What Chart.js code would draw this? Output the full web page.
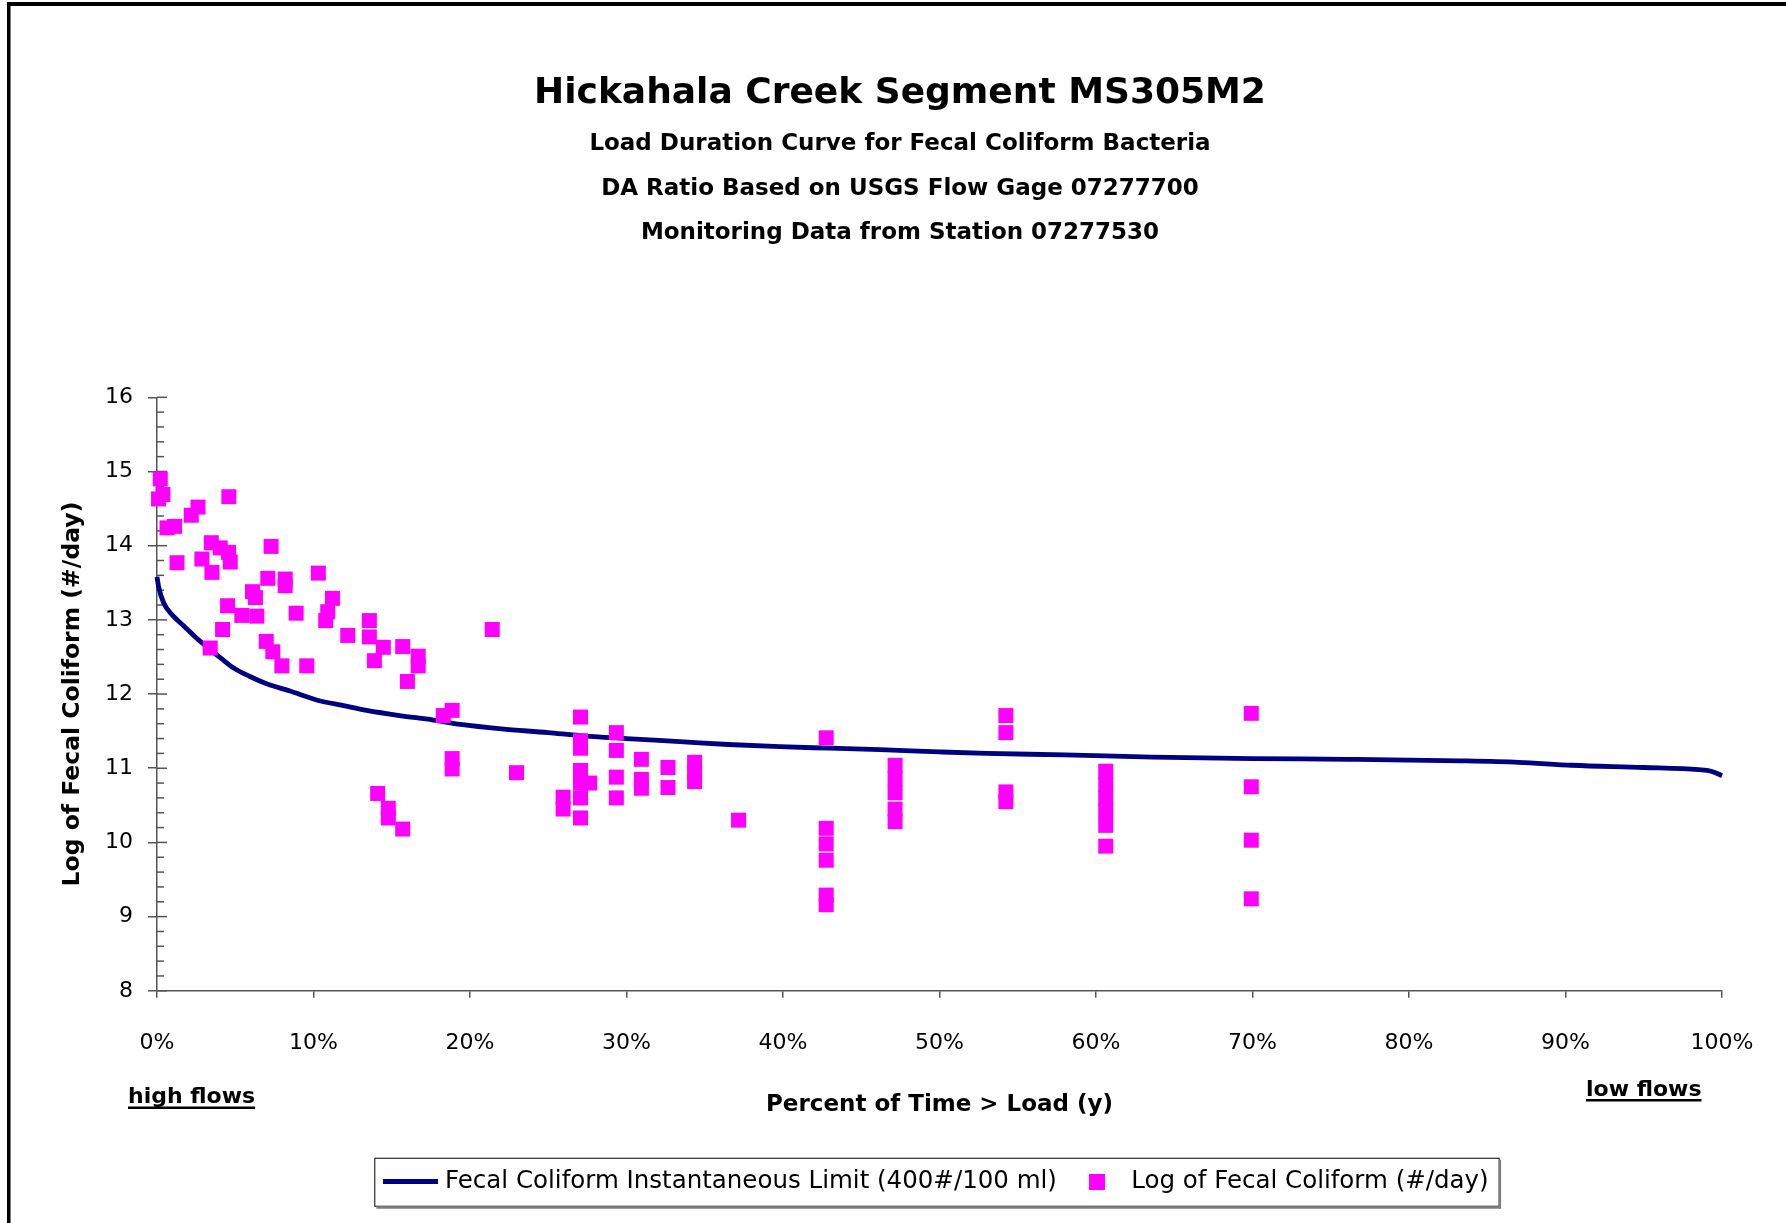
<!DOCTYPE html>
<html>
<head>
<meta charset="utf-8">
<script src="https://cdn.jsdelivr.net/npm/chart.js@4.4.0/dist/chart.umd.min.js"></script>
<style>
html,body{margin:0;padding:0;background:#fff;}
#wrap{width:1786px;height:1223px;position:relative;}
canvas{display:block;}
</style>
</head>
<body>
<div id="wrap"><canvas id="c" width="1786" height="1223"></canvas></div>
<script>
// ---- data ----
const titleText = 'Hickahala Creek Segment MS305M2';
const subtitleLines = [
  'Load Duration Curve for Fecal Coliform Bacteria',
  'DA Ratio Based on USGS Flow Gage 07277700',
  'Monitoring Data from Station 07277530'
];
const seriesNames = ['Fecal Coliform Instantaneous Limit (400#/100 ml)', 'Log of Fecal Coliform (#/day)'];
const xTickLabels = ['0%','10%','20%','30%','40%','50%','60%','70%','80%','90%','100%'];
const yTickLabels = ['8','9','10','11','12','13','14','15','16'];

// Limit curve (percent of time, log load)
const limitPct = [0,0.1,0.42,1.0,1.7,2.5,3.4,4.1,4.9,5.9,7.0,8.5,10.2,12.0,13.4,15.5,17.65,19.4,22.0,25.0,27.0,30.0,33.4,36.5,39.8,43.0,46.2,50.0,53.0,58.0,63.6,70.0,76.1,83.3,87.0,90.4,95.0,98.5,99.3,100];
const limitLog = [13.58,13.45,13.23,13.06,12.92,12.76,12.60,12.48,12.35,12.24,12.14,12.04,11.92,11.84,11.78,11.71,11.65,11.59,11.53,11.48,11.44,11.40,11.36,11.32,11.29,11.27,11.25,11.22,11.20,11.18,11.15,11.13,11.12,11.10,11.08,11.04,11.01,10.98,10.96,10.90];

// Monitoring samples (percent of time, log load)
const samplePct = [
  0.21,0.10,0.38,0.64,1.12,1.28,2.19,2.62,4.59,2.87,3.47,3.51,4.04,4.57,4.68,7.29,7.08,8.19,8.19,6.10,
  6.29,10.31,4.51,5.42,6.38,8.89,11.21,10.91,10.78,13.57,13.57,21.42,4.19,12.19,3.40,6.98,7.40,7.98,9.57,14.46,
  13.89,15.70,16.69,16.69,16.00,18.29,18.86,18.86,18.86,22.97,14.10,14.78,14.78,15.70,
  25.95,25.95,27.06,27.06,27.06,27.06,27.06,27.06,27.65,27.06,29.35,29.35,29.35,29.35,30.95,30.95,30.95,32.65,32.65,
  34.35,34.35,34.35,37.16,42.76,42.76,42.76,42.76,42.76,42.76,
  47.16,47.16,47.16,47.16,47.16,54.24,54.24,54.24,54.24,
  60.62,60.62,60.62,60.62,60.62,60.62,69.92,69.92,69.92,69.92
];
const sampleLog = [
  14.90,14.63,14.69,14.24,14.26,13.77,14.41,14.52,14.66,13.82,14.04,13.64,13.97,13.91,13.78,13.99,13.56,13.55,13.46,13.38,
  13.30,13.63,13.19,13.06,13.05,13.09,13.29,13.11,12.99,12.99,12.77,12.87,12.87,12.79,12.62,12.71,12.57,12.38,12.38,12.63,
  12.45,12.64,12.51,12.38,12.17,11.71,11.78,11.13,10.99,10.94,10.66,10.46,10.33,10.18,
  10.61,10.45,11.69,11.37,11.27,10.97,10.80,10.60,10.80,10.33,11.48,11.24,10.88,10.60,11.12,10.85,10.73,11.01,10.74,
  11.08,10.95,10.82,10.30,11.41,10.19,9.98,9.76,9.29,9.16,
  11.04,10.86,10.67,10.45,10.28,11.71,11.48,10.68,10.55,
  10.96,10.78,10.59,10.42,10.23,9.95,11.74,10.75,10.03,9.24
];

// ---- rendering ----
const FONT = "'DejaVu Sans', sans-serif";
const AXIS = '#555555';
const NAVY = '#000080';
const MAGENTA = '#FF00FF';

const squareIcon = document.createElement('canvas');
squareIcon.width = 16; squareIcon.height = 16;
(function(){ const g = squareIcon.getContext('2d'); g.fillStyle = MAGENTA; g.fillRect(0,0,16,16); })();
const lineIcon = document.createElement('canvas');
lineIcon.width = 55; lineIcon.height = 5;
(function(){ const g = lineIcon.getContext('2d'); g.fillStyle = NAVY; g.fillRect(0,0,55,5); })();

const decor = {
  id: 'decor',
  beforeDraw(chart) {
    const ctx = chart.ctx;
    ctx.save();
    ctx.fillStyle = '#ffffff';
    ctx.fillRect(0, 0, chart.width, chart.height);
    ctx.fillStyle = '#000000';
    ctx.fillRect(7, 2, chart.width - 7, 4);
    ctx.fillRect(7, 2, 3.5, chart.height - 2);
    ctx.restore();
  },
  afterLayout(chart) {
    chart.boxes.forEach(b => {
      if (b === chart.legend) {
        const c = (b.left + b.right) / 2, d = 938.7 - c;
        b.left += d; b.right += d;
        b.top -= 6; b.bottom -= 6;
      } else if (!b.axis && b.options && b.options.text !== undefined) {
        const c = (b.left + b.right) / 2, d = 900 - c;
        b.left += d; b.right += d;
      }
    });
  },
  beforeDatasetsDraw(chart) {
    const ctx = chart.ctx, ys = chart.scales.y;
    const x0 = chart.chartArea.left;
    ctx.save();
    ctx.strokeStyle = AXIS;
    ctx.lineWidth = 1.5;
    for (let i = 0; i <= 40; i++) {
      const v = 8 + i * 0.2;
      const py = ys.getPixelForValue(v);
      const len = (i % 5 === 0) ? 10 : 7;
      ctx.beginPath();
      ctx.moveTo(x0, py);
      ctx.lineTo(x0 + len, py);
      ctx.stroke();
    }
    ctx.restore();
  },
  afterDraw(chart) {
    const ctx = chart.ctx;
    ctx.save();
    // legend frame
    const hb = chart.legend.legendHitBoxes;
    if (hb && hb.length) {
      const first = hb[0], last = hb[hb.length - 1];
      const cy = first.top + first.height / 2;
      const l = first.left - 14.5, r = last.left + last.width + 10;
      ctx.strokeStyle = '#000';
      ctx.lineWidth = 1;
      ctx.strokeRect(l + 0.5, cy - 24 + 0.5, r - l, 48);
      ctx.fillStyle = '#808080';
      ctx.fillRect(l + 2, cy + 24.5, r - l, 2.5);
      ctx.fillRect(r + 0.5, cy - 22, 2, 49);
    }
    // flow annotations
    ctx.fillStyle = '#000';
    ctx.font = "bold 22px " + FONT;
    ctx.textBaseline = 'alphabetic';
    ctx.textAlign = 'left';
    const drawU = (t, x, y) => {
      ctx.fillText(t, x, y);
      const w = ctx.measureText(t).width;
      ctx.fillRect(x, y + 3.5, w, 2.5);
    };
    drawU('high flows', 128, 1103);
    drawU('low flows', 1586, 1095.5);
    ctx.restore();
  }
};

const limitData = limitPct.map((p, i) => ({x: p, y: limitLog[i]}));
const sampleData = samplePct.map((p, i) => ({x: p, y: sampleLog[i]}));

new Chart(document.getElementById('c'), {
  type: 'scatter',
  data: {
    datasets: [
      {
        label: seriesNames[1],
        data: sampleData,
        pointStyle: 'rect',
        pointRadius: 10.6,
        pointBorderWidth: 0,
        backgroundColor: MAGENTA,
        borderColor: MAGENTA,
        clip: false
      },
      {
        type: 'line',
        label: seriesNames[0],
        data: limitData,
        borderColor: NAVY,
        backgroundColor: NAVY,
        borderWidth: 4.8,
        pointRadius: 0,
        cubicInterpolationMode: 'monotone',
        fill: false,
        clip: false
      }
    ]
  },
  options: {
    responsive: false,
    animation: false,
    events: [],
    devicePixelRatio: 1,
    layout: { padding: { left: 14, right: 63, top: 0, bottom: 13 } },
    plugins: {
      tooltip: { enabled: false },
      title: {
        display: true, text: titleText, color: '#000',
        font: { family: FONT, size: 36, weight: 'bold', lineHeight: 1.2 },
        padding: { top: 72.4, bottom: 0 }
      },
      subtitle: {
        display: true, text: subtitleLines, color: '#000',
        font: { family: FONT, size: 23, weight: 'bold', lineHeight: 1.926 },
        padding: { top: 6.55, bottom: 142.25 }
      },
      legend: {
        display: true, position: 'bottom',
        labels: {
          usePointStyle: true, pointStyleWidth: 44, padding: 18, color: '#000',
          font: { family: FONT, size: 24.5 },
          generateLabels(chart) {
            const items = Chart.defaults.plugins.legend.labels.generateLabels(chart);
            items.forEach(it => {
              it.pointStyle = (it.datasetIndex === 1) ? lineIcon : squareIcon;
            });
            items.sort((a, b) => b.datasetIndex - a.datasetIndex);
            return items;
          }
        }
      }
    },
    scales: {
      x: {
        type: 'linear', position: 'bottom', min: 0, max: 100,
        ticks: {
          stepSize: 10, padding: 32.5, color: '#000', maxRotation: 0, autoSkip: false,
          font: { family: FONT, size: 22 },
          callback: (v) => xTickLabels[Math.round(v / 10)]
        },
        grid: { drawOnChartArea: false, drawTicks: true, tickLength: 7, color: AXIS, lineWidth: 1.5 },
        border: { display: true, color: AXIS, width: 1.5 },
        title: {
          display: true, text: 'Percent of Time > Load (y)', color: '#000',
          font: { family: FONT, size: 23, weight: 'bold', lineHeight: 1.2 },
          padding: { top: 0, bottom: 38.6 }
        },
        afterFit(s) { s.height = 166.7; }
      },
      y: {
        type: 'linear', position: 'left', min: 8, max: 16,
        ticks: {
          stepSize: 1, padding: 15, color: '#000',
          font: { family: FONT, size: 22 },
          callback: (v) => yTickLabels[Math.round(v - 8)]
        },
        grid: { drawOnChartArea: false, drawTicks: true, tickLength: 9, color: AXIS, lineWidth: 1.5 },
        border: { display: true, color: AXIS, width: 1.5 },
        title: {
          display: true, text: 'Log of Fecal Coliform (#/day)', color: '#000',
          font: { family: FONT, size: 23.5, weight: 'bold', lineHeight: 1.2 },
          padding: { top: 45, bottom: 0 }
        },
        afterFit(s) { s.width = 143; }
      }
    }
  },
  plugins: [decor]
});
</script>
</body>
</html>
